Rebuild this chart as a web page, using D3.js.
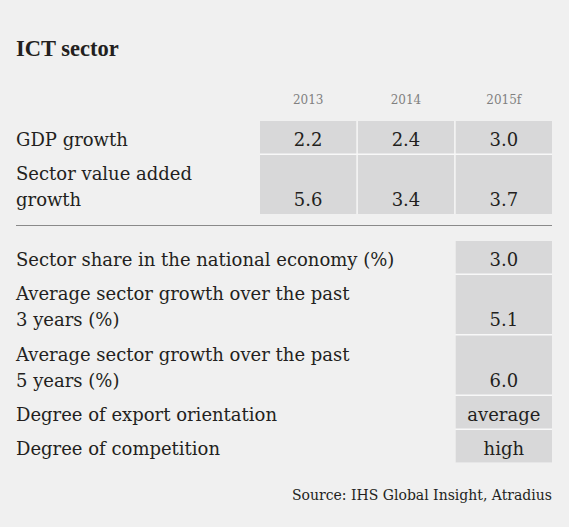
<!DOCTYPE html>
<html><head><meta charset="utf-8">
<script src="https://cdn.jsdelivr.net/npm/d3@7"></script>
<style>
html,body{margin:0;padding:0;background:#f0f0f0;}
svg{display:block;}
</style></head>
<body>
<script>
// ---- data ----
const title = "ICT sector";
const years = ["2013", "2014", "2015f"];
const topLabels = [["GDP growth"], ["Sector value added", "growth"]];
const gdpGrowth = ["2.2", "2.4", "3.0"];
const sectorValueAdded = ["5.6", "3.4", "3.7"];
const bottomLabels = [
  ["Sector share in the national economy (%)"],
  ["Average sector growth over the past", "3 years (%)"],
  ["Average sector growth over the past", "5 years (%)"],
  ["Degree of export orientation"],
  ["Degree of competition"]
];
const bottomValues = ["3.0", "5.1", "6.0", "average", "high"];
const source = "Source: IHS Global Insight, Atradius";

// ---- layout ----
const W = 569, H = 527;
const font = "'DejaVu Serif', serif";
const textColor = "#231f20";
const cellColor = "#d8d8d9";
const gapColor = "#f8f8f8";
const left = 16, right = 552;
const h1 = 32.5, h2 = 59, gap = 1.5;
const fs = 18;

const svg = d3.select("body").append("svg").attr("width", W).attr("height", H);
svg.append("rect").attr("width", W).attr("height", H).attr("fill", "#f0f0f0");

svg.append("text").attr("x", left).attr("y", 56).text(title)
  .attr("font-family", "'Liberation Serif', serif").attr("font-weight", "bold")
  .attr("font-size", 22.5).attr("fill", textColor);

const x = d3.scaleBand().domain(years).range([260, right]).paddingInner(0.015);

svg.selectAll(".yr").data(years).join("text")
  .attr("x", d => x(d) + x.bandwidth() / 2).attr("y", 104)
  .attr("text-anchor", "middle").attr("font-family", font).attr("font-size", 12)
  .attr("fill", "#808080").text(d => d);

function layoutRows(labels, top) {
  let y = top;
  return labels.map(l => {
    const h = l.length > 1 ? h2 : h1;
    const r = {y, h, lines: l.length};
    y += h + gap;
    return r;
  });
}
const topRows = layoutRows(topLabels, 121);
const topVals = [gdpGrowth, sectorValueAdded];

function drawLabels(labels, rows) {
  labels.forEach((l, i) => {
    l.forEach((line, j) => {
      svg.append("text").attr("x", left).attr("y", rows[i].y + 25 + j * 26)
        .attr("font-family", font).attr("font-size", fs).attr("fill", textColor).text(line);
    });
  });
}

// gap backgrounds (light separators between cells)
function gapBox(x0, y0, x1, y1) {
  svg.append("rect").attr("x", x0).attr("y", y0).attr("width", x1 - x0).attr("height", y1 - y0)
    .attr("fill", gapColor);
}
gapBox(x(years[0]), topRows[0].y, right, topRows[1].y + topRows[1].h);

drawLabels(topLabels, topRows);

topVals.forEach((vals, i) => {
  const r = topRows[i];
  const g = svg.append("g");
  g.selectAll("rect").data(years).join("rect")
    .attr("x", d => x(d)).attr("y", r.y).attr("width", x.bandwidth()).attr("height", r.h)
    .attr("fill", cellColor);
  g.selectAll("text").data(years).join("text")
    .attr("x", d => x(d) + x.bandwidth() / 2).attr("y", r.y + 25 + (r.lines - 1) * 26)
    .attr("text-anchor", "middle").attr("font-family", font).attr("font-size", fs)
    .attr("fill", textColor).text((d, k) => vals[k]);
});

svg.append("line").attr("x1", left).attr("x2", right).attr("y1", 225.5).attr("y2", 225.5)
  .attr("stroke", "#8a8a8a").attr("stroke-width", 1);

const botRows = layoutRows(bottomLabels, 241);
const vx = x("2015f"), vw = x.bandwidth();
const lastRow = botRows[botRows.length - 1];
gapBox(vx, botRows[0].y, vx + vw, lastRow.y + lastRow.h);
drawLabels(bottomLabels, botRows);
svg.selectAll(".bcell").data(bottomValues).join("rect")
  .attr("x", vx).attr("y", (d, i) => botRows[i].y).attr("width", vw)
  .attr("height", (d, i) => botRows[i].h).attr("fill", cellColor);
svg.selectAll(".bval").data(bottomValues).join("text")
  .attr("x", vx + vw / 2).attr("y", (d, i) => botRows[i].y + 25 + (botRows[i].lines - 1) * 26)
  .attr("text-anchor", "middle").attr("font-family", font).attr("font-size", fs)
  .attr("fill", textColor).text(d => d);

svg.append("text").attr("x", right).attr("y", 500).attr("text-anchor", "end")
  .attr("font-family", font).attr("font-size", 14).attr("fill", textColor).text(source);
</script>
</body></html>
